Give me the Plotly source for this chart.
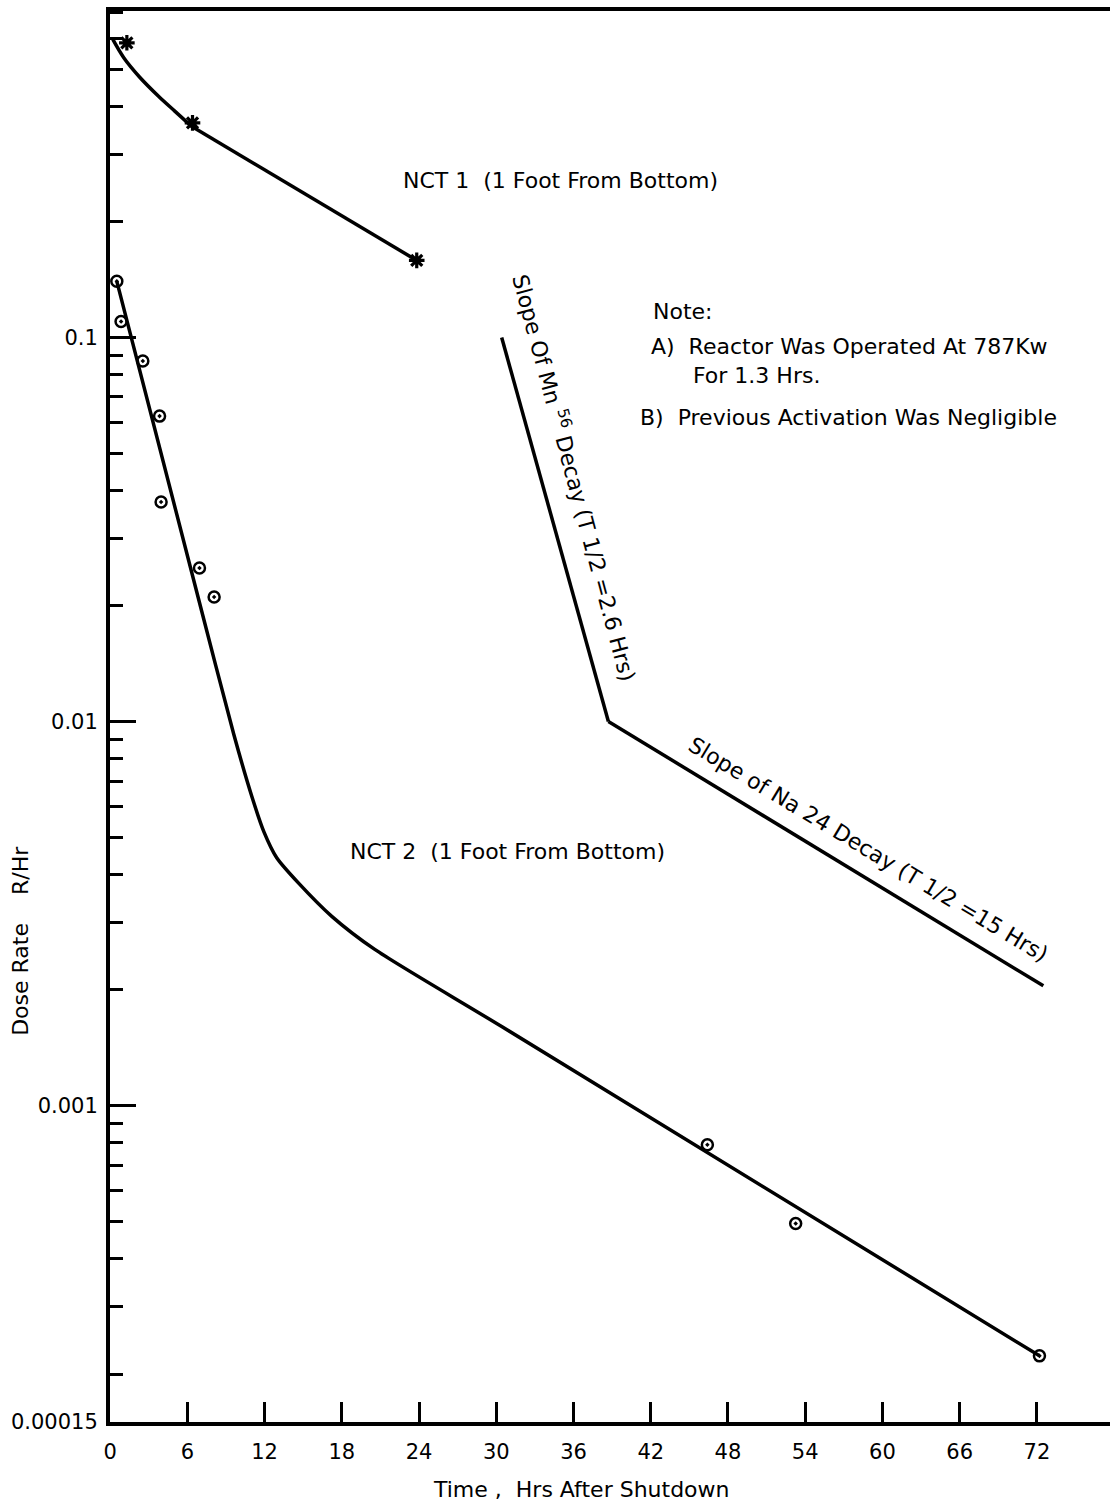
import math
import plotly.graph_objects as go

# ---- data -------------------------------------------------------------
# NCT 1 (1 ft from bottom): measured points and faired curve
nct1_hours = [1.30, 6.40, 23.82]
nct1_rate = [0.585, 0.362, 0.1587]
# curved early part, then a straight run on the semi-log scale
nct1_curve_hours = [0.21, 1.06, 2.30, 3.78, 5.00, 6.35]
nct1_curve_rate = [0.597, 0.535, 0.476, 0.424, 0.389, 0.354]
nct1_tail_hours = [6.35, 23.82]
nct1_tail_rate = [0.354, 0.1587]

# NCT 2 (1 ft from bottom): measured points and faired curve
nct2_hours = [0.52, 0.85, 2.54, 3.84, 3.96, 6.94, 8.08, 46.4, 53.26, 72.2]
nct2_rate = [0.140, 0.110, 0.0868, 0.0624, 0.0373, 0.0251, 0.0211,
             0.000791, 0.000493, 0.000223]
nct2_curve_hours = [0.52, 7.12, 9.61, 11.01, 11.94, 12.94, 14.66, 17.22,
                    20.56, 30.42, 72.2]
nct2_curve_rate = [0.140, 0.01934, 0.00925, 0.00638, 0.00517, 0.00442,
                   0.00379, 0.00311, 0.00255, 0.001606, 0.000223]

# reference decay slopes
mn56_hours = [30.42, 38.71]
mn56_rate = [0.1, 0.01]
na24_hours = [38.71, 72.5]
na24_rate = [0.01, 0.00205]

x_ticks = list(range(0, 73, 6))
y_ticks = [0.00015, 0.001, 0.01, 0.1]
y_tick_text = ["0.00015", "0.001", "0.01", "0.1"]

X_RANGE = [-0.01, 77.68]
Y_RANGE = [math.log10(0.00015), -0.150]

FONT = "DejaVu Sans"
FS = 22

fig = go.Figure()

line_style = dict(color="black", width=3.5)

fig.add_trace(go.Scatter(x=nct1_curve_hours, y=nct1_curve_rate, mode="lines",
                         line=dict(line_style, shape="spline", smoothing=0.9),
                         hoverinfo="skip"))
fig.add_trace(go.Scatter(x=nct1_tail_hours, y=nct1_tail_rate, mode="lines",
                         line=line_style, hoverinfo="skip"))
fig.add_trace(go.Scatter(x=nct1_hours, y=nct1_rate, mode="markers",
                         marker=dict(symbol="asterisk-open", size=13,
                                     color="black",
                                     line=dict(color="black", width=3.2))))

fig.add_trace(go.Scatter(x=nct2_curve_hours, y=nct2_curve_rate, mode="lines",
                         line=dict(line_style, shape="spline", smoothing=0.7),
                         hoverinfo="skip"))
fig.add_trace(go.Scatter(x=nct2_hours, y=nct2_rate, mode="markers",
                         marker=dict(symbol="circle-open-dot", size=11,
                                     color="black",
                                     line=dict(color="black", width=2.5))))

fig.add_trace(go.Scatter(x=mn56_hours, y=mn56_rate, mode="lines",
                         line=line_style, hoverinfo="skip"))
fig.add_trace(go.Scatter(x=na24_hours, y=na24_rate, mode="lines",
                         line=line_style, hoverinfo="skip"))

# minor ticks at 2..9 of every decade
minor_vals = []
for k in range(-4, 0):
    for m in range(2, 10):
        v = m * 10 ** k
        if 0.00015 < v < 10 ** Y_RANGE[1]:
            minor_vals.append(v)

fig.update_xaxes(range=X_RANGE, tickvals=x_ticks, ticks="inside", ticklen=20,
                 tickwidth=2.5, tickcolor="black", showgrid=False,
                 zeroline=False, showline=True, linewidth=4, linecolor="black",
                 mirror=True, ticklabelstandoff=8,
                 tickfont=dict(family=FONT, size=21, color="black"))
fig.update_yaxes(type="log", range=Y_RANGE, tickvals=y_ticks,
                 ticktext=y_tick_text, ticks="inside", ticklen=26,
                 tickwidth=2.5, tickcolor="black", showgrid=False,
                 zeroline=False, showline=True, linewidth=4, linecolor="black",
                 ticklabelstandoff=4,
                 tickfont=dict(family=FONT, size=21, color="black"),
                 minor=dict(tickvals=minor_vals, ticks="inside", ticklen=13,
                            tickwidth=2.5, tickcolor="black", showgrid=False))


def ann(text, x, y, **kw):
    base = dict(text=text, x=x, y=math.log10(y), xref="x", yref="y",
                showarrow=False, font=dict(family=FONT, size=FS, color="black"))
    base.update(kw)
    fig.add_annotation(**base)


ann("NCT 1  (1 Foot From Bottom)", 34.97, 10 ** -0.591)
ann("NCT 2  (1 Foot From Bottom)", 30.85, 10 ** -2.3385)

ann("Note:", 42.0, 10 ** -0.932, xanchor="left")
ann("A)  Reactor Was Operated At 787Kw", 41.9, 10 ** -1.023, xanchor="left")
ann("For 1.3 Hrs.", 45.1, 10 ** -1.100, xanchor="left")
ann("B)  Previous Activation Was Negligible", 41.0, 10 ** -1.208, xanchor="left")

ann("Slope Of Mn <sup>56</sup> Decay (T 1/2 =2.6 Hrs)", 36.1, 10 ** -1.3646,
    textangle=75, xanchor="center", yanchor="middle")
ann("Slope of Na 24 Decay (T 1/2 =15 Hrs)", 58.9, 10 ** -2.3333,
    textangle=31, xanchor="center", yanchor="middle")

# axis titles
fig.add_annotation(text="Time ,  Hrs After Shutdown", xref="paper", yref="paper",
                   x=0.471, y=-0.0475, showarrow=False, yanchor="middle",
                   font=dict(family=FONT, size=FS, color="black"))
fig.add_annotation(text="Dose Rate    R/Hr", xref="paper", yref="paper",
                   x=-0.089, y=0.341, showarrow=False, textangle=-90,
                   xanchor="center", yanchor="middle",
                   font=dict(family=FONT, size=FS, color="black"))

fig.update_layout(width=1112, height=1503, showlegend=False,
                  margin=dict(l=110, r=2, t=11, b=81),
                  paper_bgcolor="white", plot_bgcolor="white")

fig.write_html("out.html")
